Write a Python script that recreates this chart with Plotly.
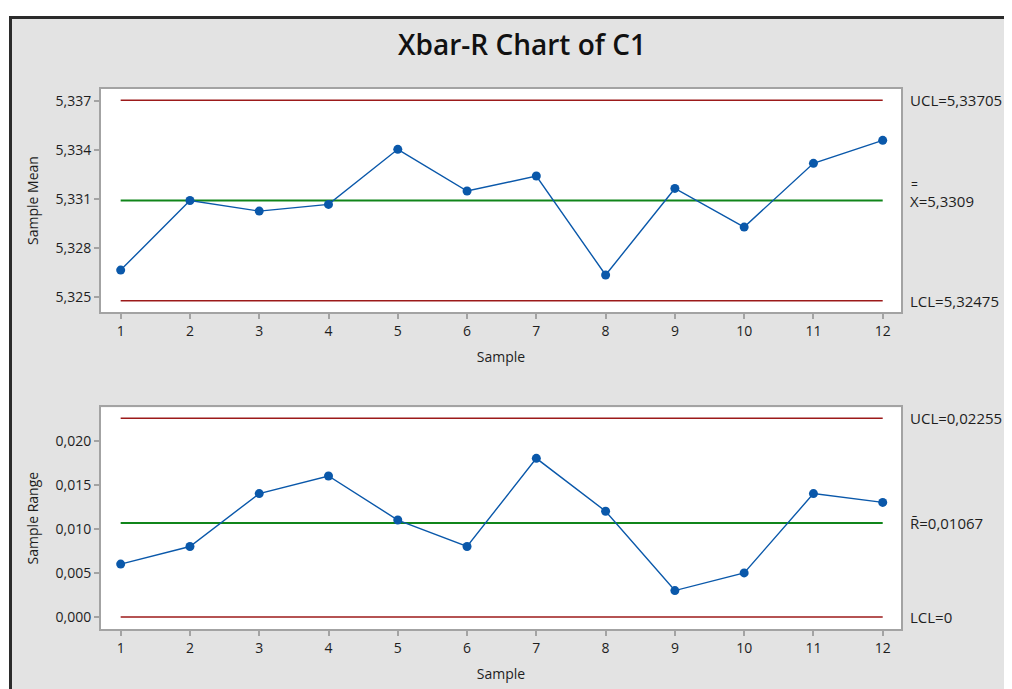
import plotly.graph_objects as go

samples = list(range(1, 13))
sample_means = [5.32663, 5.3309, 5.33025, 5.33066, 5.33404, 5.33148,
                5.3324, 5.32633, 5.33164, 5.32927, 5.33318, 5.33459]
sample_ranges = [0.006, 0.008, 0.014, 0.016, 0.011, 0.008,
                 0.018, 0.012, 0.003, 0.005, 0.014, 0.013]
xbar_ucl, xbar_cl, xbar_lcl = 5.33705, 5.3309, 5.32475
r_ucl, r_cl, r_lcl = 0.02255, 0.01067, 0.0
mean_ticks = [5.325, 5.328, 5.331, 5.334, 5.337]
mean_tick_text = ["5,325", "5,328", "5,331", "5,334", "5,337"]
range_ticks = [0.0, 0.005, 0.010, 0.015, 0.020]
range_tick_text = ["0,000", "0,005", "0,010", "0,015", "0,020"]

FONT = "Open Sans"
RED = "#9c1a1a"
GREEN = "#10851a"
BLUE = "#0a58aa"
TXT = "#1e1e1e"

# page has an 8px body margin; figure occupies the rest of the window
OFF = 8
W, H = 1012 - OFF, 689 - OFF


def px(xp):
    return (xp - OFF) / W


def py(yp):
    return 1 - (yp - OFF) / H


fig = go.Figure()


def add_panel(xa, ya, values, ucl, cl, lcl):
    ends = [samples[0], samples[-1]]
    for yv, col, w in [(ucl, RED, 1.6), (lcl, RED, 1.6), (cl, GREEN, 2)]:
        fig.add_trace(go.Scatter(x=ends, y=[yv, yv], mode="lines", xaxis=xa, yaxis=ya,
                                 line=dict(color=col, width=w), hoverinfo="skip"))
    fig.add_trace(go.Scatter(x=samples, y=values, mode="lines+markers", xaxis=xa, yaxis=ya,
                             line=dict(color=BLUE, width=1.4),
                             marker=dict(color=BLUE, size=9)))


add_panel("x", "y", sample_means, xbar_ucl, xbar_cl, xbar_lcl)
add_panel("x2", "y2", sample_ranges, r_ucl, r_cl, r_lcl)

xdom = [px(101), px(901)]
axis_common = dict(showgrid=False, zeroline=False, showline=True, mirror=True,
                   linecolor="#a3a3a3", linewidth=2, ticks="outside", ticklen=5,
                   tickcolor="#a3a3a3", tickwidth=1.5,
                   tickfont=dict(family=FONT, size=14, color=TXT))
title_font = dict(family=FONT, size=14, color=TXT)

fig.update_layout(
    width=W, height=H, autosize=False,
    margin=dict(l=0, r=0, t=0, b=0),
    paper_bgcolor="#e3e3e3", plot_bgcolor="white",
    showlegend=False,
    font=dict(family=FONT, color=TXT),
    title=dict(text="Xbar-R Chart of C1", x=px(522), xanchor="center",
               y=py(45), yanchor="middle",
               font=dict(family=FONT, size=28, color="#111111", weight=600)),
    xaxis=dict(domain=xdom, anchor="y", range=[0.716, 12.264], tickmode="array",
               tickvals=samples, ticktext=[str(s) for s in samples],
               title=dict(text="Sample", font=title_font, standoff=13),
               **axis_common),
    yaxis=dict(domain=[py(312), py(89)], anchor="x", range=[5.32406, 5.33774],
               tickmode="array", tickvals=mean_ticks, ticktext=mean_tick_text,
               title=dict(text="Sample Mean", font=title_font, standoff=14),
               **axis_common),
    xaxis2=dict(domain=xdom, anchor="y2", range=[0.716, 12.264], tickmode="array",
                tickvals=samples, ticktext=[str(s) for s in samples],
                title=dict(text="Sample", font=title_font, standoff=13),
                **axis_common),
    yaxis2=dict(domain=[py(629), py(407.3)], anchor="x2", range=[-0.00136, 0.02379],
                tickmode="array", tickvals=range_ticks, ticktext=range_tick_text,
                title=dict(text="Sample Range", font=title_font, standoff=14),
                **axis_common),
)

lab_x = px(908)
lab_font = dict(family=FONT, size=15, color=TXT)
labels = [
    ("y", xbar_ucl, "UCL=5,33705"),
    ("y", xbar_cl, "X=5,3309"),
    ("y", xbar_lcl, "LCL=5,32475"),
    ("y2", r_ucl, "UCL=0,02255"),
    ("y2", r_cl, "R\u0304=0,01067"),
    ("y2", r_lcl, "LCL=0"),
]
for yref, yv, txt in labels:
    fig.add_annotation(x=lab_x, xref="paper", y=yv, yref=yref, text=txt, showarrow=False,
                       xanchor="left", yanchor="middle", font=lab_font)
fig.add_annotation(x=px(909), xref="paper", y=xbar_cl, yref="y", text="=", showarrow=False,
                   xanchor="left", yanchor="bottom", yshift=6, font=dict(family=FONT, size=12, color=TXT))

# window frame
fig.add_shape(type="rect", xref="paper", yref="paper", x0=0, x1=1, y0=py(16), y1=1,
              fillcolor="white", line=dict(width=0), layer="below")
fig.add_shape(type="rect", xref="paper", yref="paper", x0=0, x1=px(9), y0=0, y1=1,
              fillcolor="white", line=dict(width=0), layer="below")
fig.add_shape(type="line", xref="paper", yref="paper", x0=px(9), x1=1, y0=py(17.5),
              y1=py(17.5), line=dict(color="#2b2b2b", width=3))
fig.add_shape(type="line", xref="paper", yref="paper", x0=px(10.5), x1=px(10.5), y0=0,
              y1=py(17.5), line=dict(color="#2b2b2b", width=3))

fig.write_html("out.html")
